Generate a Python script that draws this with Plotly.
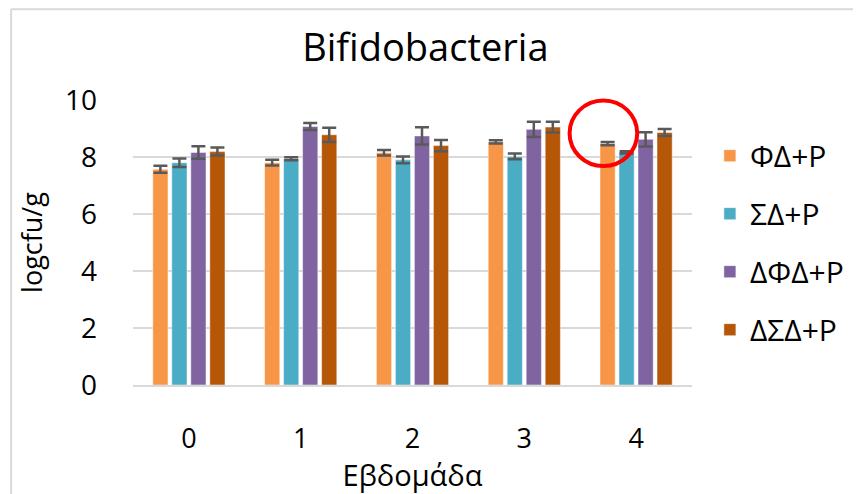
import plotly.graph_objects as go

weeks = ["0", "1", "2", "3", "4"]
series_names = ["ΦΔ+P", "ΣΔ+P", "ΔΦΔ+P", "ΔΣΔ+P"]
fd_vals = [7.57, 7.80, 8.15, 8.53, 8.47]
fd_err = [0.12, 0.10, 0.10, 0.06, 0.06]
sd_vals = [7.80, 7.94, 7.90, 8.02, 8.16]
sd_err = [0.15, 0.05, 0.12, 0.10, 0.04]
dfd_vals = [8.16, 9.07, 8.74, 8.97, 8.62]
dfd_err = [0.22, 0.12, 0.30, 0.27, 0.25]
dsd_vals = [8.19, 8.78, 8.40, 9.05, 8.86]
dsd_err = [0.14, 0.25, 0.20, 0.19, 0.12]
colors = ["#F79646", "#4BACC6", "#8064A2", "#B65708"]

FONT = "Open Sans, Noto Sans, DejaVu Sans, sans-serif"

fig = go.Figure()
for i, (name, vals, errs) in enumerate(zip(series_names,
                                           [fd_vals, sd_vals, dfd_vals, dsd_vals],
                                           [fd_err, sd_err, dfd_err, dsd_err])):
    fig.add_trace(go.Bar(
        x=weeks, y=vals, name=name, legendgroup=f"g{i}",
        marker=dict(color=colors[i], line=dict(color="rgba(255,255,255,0.6)", width=0.8)),
        error_y=dict(type="data", array=errs, visible=True,
                     color="#595959", thickness=2.5, width=7),
    ))

fig.update_layout(
    width=853, height=486,
    margin=dict(l=125, r=168, t=92, b=107),
    paper_bgcolor="white", plot_bgcolor="white",
    font=dict(family=FONT, color="#000000", size=28),
    barmode="group", bargap=0.32, bargroupgap=0.2,
    title=dict(text="Bifidobacteria", x=0.523, xref="paper", xanchor="center",
               y=0.918, yref="container", yanchor="middle",
               font=dict(family=FONT, size=38, color="#000000")),
    showlegend=True,
    legend=dict(x=1.032, xanchor="left", y=0.896, yanchor="top",
                font=dict(family=FONT, size=30, color="#000000"),
                tracegroupgap=16, traceorder="grouped",
                bgcolor="rgba(0,0,0,0)"),
    xaxis=dict(type="category", showgrid=False, showline=True,
               linecolor="#D9D9D9", linewidth=2,
               ticks="", ticklabelstandoff=29,
               tickfont=dict(family=FONT, size=27, color="#000000"),
               title=dict(text="Εβδομάδα", standoff=5,
                          font=dict(family=FONT, size=29, color="#000000"))),
    yaxis=dict(range=[0, 10], tick0=0, dtick=2, showgrid=True,
               gridcolor="#D9D9D9", gridwidth=2, zeroline=False, showline=False,
               ticks="", ticklabelstandoff=35,
               tickfont=dict(family=FONT, size=28, color="#000000"),
               title=dict(text="logcfu/g", standoff=14,
                          font=dict(family=FONT, size=27, color="#000000"))),
    shapes=[
        # chart frame (left and top edges)
        dict(type="line", xref="paper", yref="paper", x0=-0.218, x1=-0.218,
             y0=-0.40, y1=1.318, line=dict(color="#D9D9D9", width=2)),
        dict(type="line", xref="paper", yref="paper", x0=-0.218, x1=1.32,
             y0=1.318, y1=1.318, line=dict(color="#D9D9D9", width=2)),
        # red highlight circle
        dict(type="circle", xref="paper", yref="paper", x0=0.781, x1=0.902,
             y0=0.768, y1=0.998, line=dict(color="#FF0000", width=4),
             fillcolor="rgba(0,0,0,0)", layer="above"),
    ],
)

fig.write_html("out.html")
